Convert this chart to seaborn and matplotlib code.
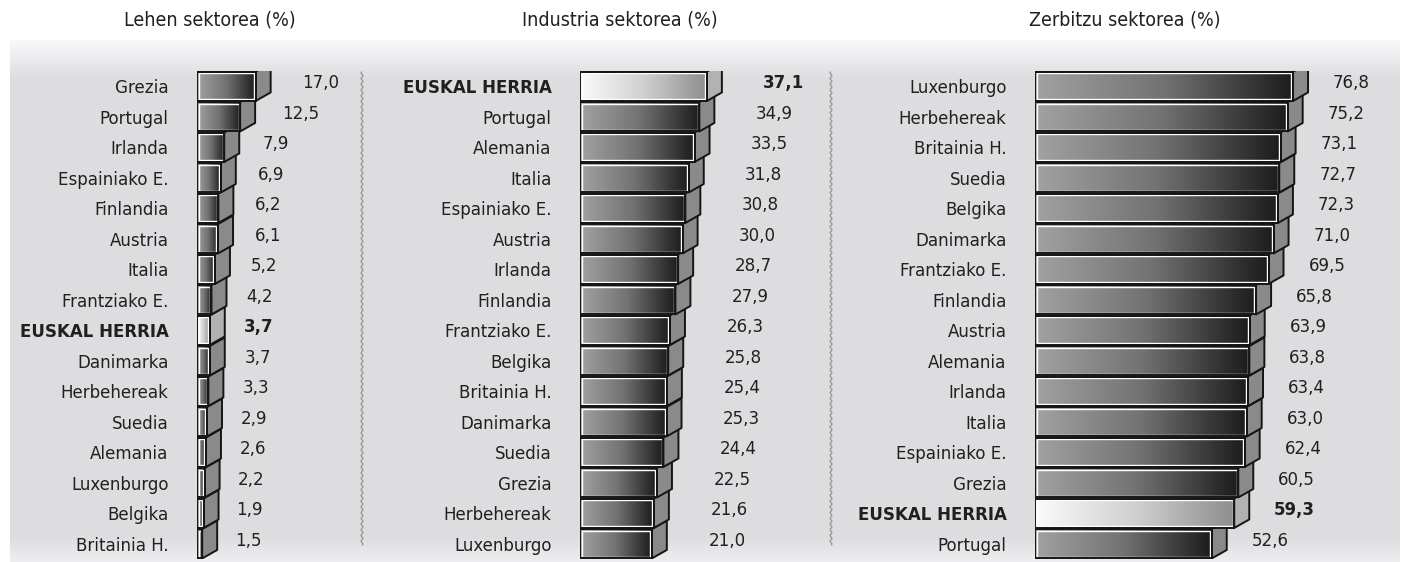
import numpy as np
import pandas as pd
import matplotlib
matplotlib.use("Agg")
import matplotlib.pyplot as plt
import seaborn as sns
from matplotlib import font_manager
from matplotlib.colors import LinearSegmentedColormap
from matplotlib.patches import Polygon, Rectangle
from matplotlib.lines import Line2D

# ---------------- data ----------------
lehen_countries = ["Grezia", "Portugal", "Irlanda", "Espainiako E.", "Finlandia", "Austria",
                   "Italia", "Frantziako E.", "EUSKAL HERRIA", "Danimarka", "Herbehereak",
                   "Suedia", "Alemania", "Luxenburgo", "Belgika", "Britainia H."]
lehen_values = [17.0, 12.5, 7.9, 6.9, 6.2, 6.1, 5.2, 4.2, 3.7, 3.7, 3.3, 2.9, 2.6, 2.2, 1.9, 1.5]

industria_countries = ["EUSKAL HERRIA", "Portugal", "Alemania", "Italia", "Espainiako E.",
                       "Austria", "Irlanda", "Finlandia", "Frantziako E.", "Belgika",
                       "Britainia H.", "Danimarka", "Suedia", "Grezia", "Herbehereak", "Luxenburgo"]
industria_values = [37.1, 34.9, 33.5, 31.8, 30.8, 30.0, 28.7, 27.9, 26.3, 25.8, 25.4, 25.3,
                    24.4, 22.5, 21.6, 21.0]

zerbitzu_countries = ["Luxenburgo", "Herbehereak", "Britainia H.", "Suedia", "Belgika",
                      "Danimarka", "Frantziako E.", "Finlandia", "Austria", "Alemania",
                      "Irlanda", "Italia", "Espainiako E.", "Grezia", "EUSKAL HERRIA", "Portugal"]
zerbitzu_values = [76.8, 75.2, 73.1, 72.7, 72.3, 71.0, 69.5, 65.8, 63.9, 63.8, 63.4, 63.0,
                   62.4, 60.5, 59.3, 52.6]

titles = ["Lehen sektorea (%)", "Industria sektorea (%)", "Zerbitzu sektorea (%)"]
HIGHLIGHT = "EUSKAL HERRIA"

# ---------------- style ----------------
sns.set_theme(style="white")
names = {f.name for f in font_manager.fontManager.ttflist}
if "Liberation Sans Narrow" in names:
    FONT, FS, TFS, STRETCH = "Liberation Sans Narrow", 15, 16, "normal"
else:
    FONT, FS, TFS, STRETCH = "DejaVu Sans", 13.3, 14, "condensed"
plt.rcParams["font.family"] = [FONT, "DejaVu Sans"]
plt.rcParams["font.stretch"] = STRETCH
TXT = "#231f20"

W, H = 1408, 562
fig = plt.figure(figsize=(W / 100, H / 100), dpi=100)
fig.patch.set_facecolor("white")

# background panel (decoration)
bg = fig.add_axes([0, 0, 1, 1], zorder=-10)
bg.set_xlim(0, W)
bg.set_ylim(H, 0)
bg.axis("off")
ys = np.arange(40, 562)
shade = np.interp(ys, [40, 78, 536, 562], [0.975, 0.868, 0.868, 0.935])
bg_img = np.stack([shade, shade, np.clip(shade * 1.012, 0, 1)], axis=-1)[:, None, :]
bg_img = np.repeat(bg_img, 2, axis=1)
bg.imshow(bg_img, extent=(10, 1400, 562, 40), aspect="auto", interpolation="bilinear")
for sx in (362, 831):
    yy = np.linspace(72, 545, 600)
    bg.add_line(Line2D(sx + 0.9 * np.sin(yy * 1.1), yy, color="#9a9a9a", lw=1.0))

cm_norm = LinearSegmentedColormap.from_list("n", [(0, "#a2a2a2"), (0.5, "#727272"), (0.88, "#303030"), (1, "#1c1c1c")])
cm_hi = LinearSegmentedColormap.from_list("h", [(0, "#fbfbfb"), (0.5, "#d0d0d0"), (1, "#8e8e8e")])
cm_top_n = LinearSegmentedColormap.from_list("tn", ["#c4c4c4", "#6a6a6a"])
cm_top_h = LinearSegmentedColormap.from_list("th", ["#f4f4f4", "#b4b4b4"])
grad = np.linspace(0, 1, 256)[None, :]

# panel geometry: (countries, values, left_px, right_px, px_per_unit, label_c, label_m, title_x)
panels = [
    (lehen_countries, lehen_values, 197, 360, 3.45, 9.1, 1.25, 210),
    (industria_countries, industria_values, 580, 830, 3.42, 16.5, 1.0, 620),
    (zerbitzu_countries, zerbitzu_values, 1035, 1400, 3.36, 11.9, 1.0, 1125),
]
TOP_PX, BOT_PX = 71, 559
DX_PX, DY_PX = 15, 8.5

for (countries, values, lpx, rpx, pxu, lc, lm, tx), title in zip(panels, titles):
    ax = fig.add_axes([lpx / W, (H - BOT_PX) / H, (rpx - lpx) / W, (BOT_PX - TOP_PX) / H])
    df = pd.DataFrame({"country": countries, "value": values})
    sns.barplot(data=df, x="value", y="country", ax=ax, orient="h", width=0.965,
                color="#777777", saturation=1, linewidth=0)
    n = len(countries)
    ax.set_xlim(0, (rpx - lpx) / pxu)
    ax.set_ylim(n - 0.5, -0.5)
    ax.set_facecolor("none")
    for s in ax.spines.values():
        s.set_visible(False)
    ax.set_xlabel("")
    ax.set_ylabel("")
    ax.set_xticks([])
    ax.tick_params(axis="y", length=0, pad=20.5, labelsize=FS, labelcolor=TXT)
    for tl in ax.get_yticklabels():
        if tl.get_text() == HIGHLIGHT:
            tl.set_fontweight("bold")

    pxrow = (BOT_PX - TOP_PX) / n
    dx = DX_PX / pxu
    dy = DY_PX / pxrow
    ix, iy = 1.6 / pxu, 1.6 / pxrow

    for patch in ax.patches:
        x0, yt = patch.get_x(), patch.get_y()
        w, h = patch.get_width(), patch.get_height()
        x1, yb = x0 + w, yt + h
        i = int(round(yt + h / 2))
        hi = countries[i] == HIGHLIGHT
        z = 10 + (n - i) * 5
        patch.set_facecolor("none")
        patch.set_edgecolor("#151515")
        patch.set_linewidth(1.4)
        patch.set_zorder(z + 3)
        # front gradient
        ax.imshow(grad, cmap=cm_hi if hi else cm_norm, extent=(x0, x1, yb, yt),
                  aspect="auto", interpolation="bilinear", zorder=z + 1)
        # side face
        side = Polygon([(x1, yt), (x1 + dx, yt - dy), (x1 + dx, yb - dy), (x1, yb)],
                       closed=True, facecolor="#b2b2b2" if hi else "#8a8a8a",
                       edgecolor="#151515", lw=1.4, zorder=z, joinstyle="round")
        ax.add_patch(side)
        # top face (first row only)
        if i == 0:
            top = Polygon([(x0, yt), (x0 + dx, yt - dy), (x1 + dx, yt - dy), (x1, yt)],
                          closed=True, facecolor="none", edgecolor="#151515", lw=1.4,
                          zorder=z + 3, joinstyle="round")
            ax.add_patch(top)
            im = ax.imshow(grad, cmap=cm_top_h if hi else cm_top_n,
                           extent=(x0, x1 + dx, yt, yt - dy), aspect="auto",
                           interpolation="bilinear", zorder=z + 1)
            im.set_clip_path(top)
        # white inner highlight line
        ax.add_patch(Rectangle((x0 + ix, yt + iy), max(w - 2 * ix, 0.01), h - 2 * iy,
                               facecolor="none", edgecolor="white", lw=1.0, zorder=z + 2))
        # value label
        v = values[i]
        ax.text(lc + lm * v, i - 0.1, f"{v:.1f}".replace(".", ","), ha="left", va="center",
                fontsize=FS, color=TXT, fontweight="bold" if hi else "normal",
                zorder=200, clip_on=False)
    ax.set_xlim(0, (rpx - lpx) / pxu)
    ax.set_ylim(n - 0.5, -0.5)
    fig.text(tx / W, 1 - 20 / H, title, ha="center", va="center", fontsize=TFS, color=TXT)

fig.savefig("out.png", dpi=100, facecolor="white")
